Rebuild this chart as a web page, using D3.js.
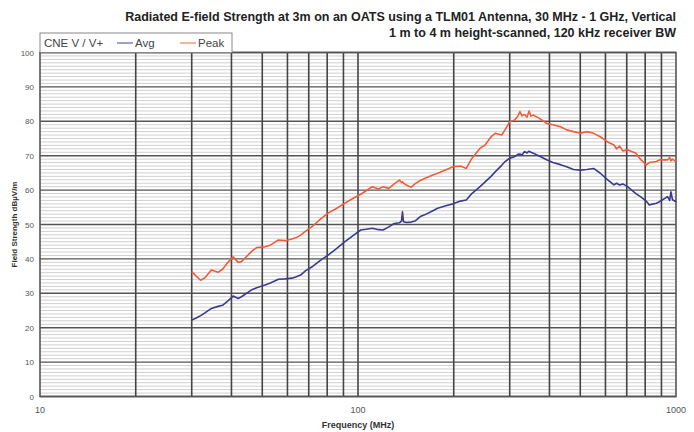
<!DOCTYPE html>
<html><head><meta charset="utf-8">
<script src="https://cdn.jsdelivr.net/npm/d3@7"></script>
<style>body{margin:0;background:#fff}svg{display:block;font-family:"Liberation Sans",Arial,sans-serif}</style>
</head><body><svg id="c" width="694" height="432"></svg>
<script>
const freqs = [30,31,32,33,34.6,36.3,37.5,39,40.5,42,43,46.3,48,51,53,56.2,59,62,64,66,68.3,72,76,80.5,85,91,96,102,106,111,116,120,125,130,135,137,138,139,142,147,151,157,162,172,178,190,199,210,219,228,242,251,262,270,283,290,300,311,318,323,328,334,340,345,350,356,370,392,410,433,453,476,500,524,551,578,610,638,650,665,680,704,748,773,806,824,868,887,941,955,964,975,1000];
const avgValues = [22.2,22.8,23.5,24.3,25.6,26.2,26.5,27.8,29.2,28.5,29.0,31.0,31.6,32.4,33.0,34.1,34.2,34.4,34.8,35.3,36.5,37.8,39.5,41.1,42.8,45.0,46.6,48.4,48.6,48.9,48.5,48.4,49.3,50.3,50.5,51.0,53.7,50.8,50.6,50.7,51.0,52.3,52.8,54.0,54.7,55.5,56.0,56.8,57.1,59.0,61.0,62.4,64.0,65.3,67.2,68.3,69.3,69.7,70.4,70.5,70.2,71.2,70.8,71.3,71.0,70.7,70.0,68.8,68.0,67.4,66.8,66.0,65.8,66.0,66.3,64.9,63.0,61.5,62.0,61.5,61.8,61.0,59.0,58.1,56.8,55.7,56.2,56.6,58.1,57.0,59.5,57.2,56.6];
const peakValues = [36.3,35.0,33.8,34.5,36.8,36.1,37.0,39.0,40.6,39.0,39.2,42.2,43.3,43.5,44.0,45.5,45.3,45.8,46.2,46.9,48.0,49.5,51.5,53.3,54.5,56.2,57.5,58.8,59.8,61.0,60.3,61.0,60.5,61.8,62.9,62.2,62.4,62.0,61.5,60.8,61.8,62.8,63.4,64.4,64.9,66.0,66.8,67.0,66.3,69.2,72.2,73.1,75.5,76.5,76.0,77.5,79.9,80.4,81.5,82.8,81.6,82.0,81.2,83.0,81.5,81.8,81.0,79.4,79.0,78.4,77.5,77.0,76.5,77.0,76.5,75.5,74.0,73.1,72.0,72.8,71.4,71.7,70.7,69.0,67.3,68.0,68.3,68.8,68.8,69.5,68.5,69.0,68.3];
const yTicks = [0,10,20,30,40,50,60,70,80,90,100];
const xTickLabels = [10,100,1000];
const xGrid = [20,30,40,50,60,70,80,90,200,300,400,500,600,700,800,900];
const titleLines = ["Radiated E-field Strength at 3m on an OATS using a TLM01 Antenna, 30 MHz - 1 GHz, Vertical","1 m to 4 m height-scanned, 120 kHz receiver BW"];
const seriesNames = ["Avg","Peak"];
const colors = {Avg:"#3b3a8f", Peak:"#f25c38"};

const svg = d3.select("#c");
const L=40,R=676,T=52.5,B=396.5;
const x = d3.scaleLog().domain([10,1000]).range([L,R]);
const y = d3.scaleLinear().domain([0,100]).range([B,T]);

svg.append("g").selectAll("line").data(d3.range(1,100).filter(v=>v%10!==0)).join("line")
  .attr("x1",L).attr("x2",R).attr("y1",d=>y(d)).attr("y2",d=>y(d))
  .attr("stroke","#d0d0d0").attr("stroke-width",1);
svg.append("g").selectAll("line").data(yTicks).join("line")
  .attr("x1",L).attr("x2",R).attr("y1",d=>y(d)).attr("y2",d=>y(d))
  .attr("stroke","#555").attr("stroke-width",1.4);
svg.append("g").selectAll("line").data(xGrid.concat([100])).join("line")
  .attr("x1",d=>x(d)).attr("x2",d=>x(d)).attr("y1",T).attr("y2",B)
  .attr("stroke","#444").attr("stroke-width",1.6);
svg.append("rect").attr("x",L).attr("y",T).attr("width",R-L).attr("height",B-T)
  .attr("fill","none").attr("stroke","#555").attr("stroke-width",1.6);

svg.append("g").selectAll("text").data(yTicks).join("text")
  .attr("x",L-6).attr("y",d=>y(d)+3).attr("text-anchor","end")
  .attr("font-size",8).attr("fill","#555").text(d=>d);
svg.append("g").selectAll("text").data(xTickLabels).join("text")
  .attr("x",d=>x(d)).attr("y",413).attr("text-anchor","middle")
  .attr("font-size",9).attr("fill","#555").text(d=>d);
svg.append("text").attr("x",x(100)).attr("y",428).attr("text-anchor","middle")
  .attr("font-size",9).attr("font-weight","bold").attr("fill","#333").text("Frequency (MHz)");
svg.append("text").attr("transform",`translate(17,${(T+B)/2}) rotate(-90)`).attr("text-anchor","middle")
  .attr("font-size",8).attr("font-weight","bold").attr("fill","#333").text("Field Strength dBµV/m");

svg.append("g").selectAll("text").data(titleLines).join("text")
  .attr("x",R).attr("y",(d,i)=>21+i*16).attr("text-anchor","end")
  .attr("font-size",12.5).attr("font-weight","bold").attr("fill","#222").text(d=>d);

const line = vals => d3.line().x((d,i)=>x(freqs[i])).y(d=>y(d))(vals);
svg.append("path").attr("d",line(avgValues)).attr("fill","none").attr("stroke",colors.Avg).attr("stroke-width",1.6).attr("stroke-linejoin","round");
svg.append("path").attr("d",line(peakValues)).attr("fill","none").attr("stroke",colors.Peak).attr("stroke-width",1.6).attr("stroke-linejoin","round");

const lg = svg.append("g");
lg.append("rect").attr("x",40).attr("y",33).attr("width",192).attr("height",19.5)
  .attr("fill","#fff").attr("stroke","#888").attr("stroke-width",1);
lg.append("text").attr("x",44).attr("y",47).attr("font-size",11.5).attr("fill","#444").text("CNE V / V+");
const lx = [117,180];
seriesNames.forEach((n,i)=>{
  lg.append("line").attr("x1",lx[i]).attr("x2",lx[i]+16).attr("y1",43).attr("y2",43).attr("stroke",colors[n]).attr("stroke-width",1.6).attr("opacity",0.6);
  lg.append("text").attr("x",lx[i]+18).attr("y",47).attr("font-size",11.5).attr("fill","#444").text(n);
});
</script></body></html>
